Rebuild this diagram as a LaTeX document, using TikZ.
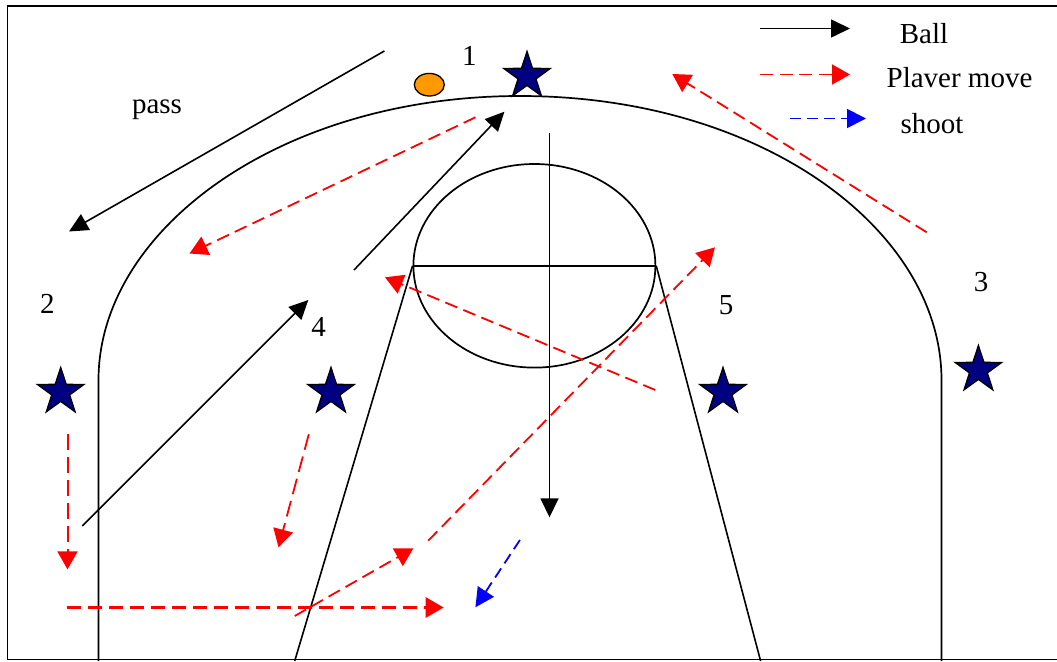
\documentclass[tikz,border=0pt]{standalone}
\usepackage{fontspec}
\setmainfont{Liberation Serif}
\usetikzlibrary{arrows.meta,shapes.geometric}
\definecolor{starnavy}{RGB}{0,0,128}
\definecolor{ballorange}{RGB}{255,153,0}
\definecolor{movered}{RGB}{255,0,0}
\definecolor{shootblue}{RGB}{0,0,255}
\tikzset{
  court/.style={draw=black, line width=1.7pt},
  ballarrow/.style={draw=black, line width=1.6pt, -{Triangle[length=19pt,width=18pt]}},
  movearrow/.style={draw=movered, line width=1.8pt, dash pattern=on 13pt off 6.5pt, -{Triangle[length=18pt,width=20pt]}, movered},
  shootarrow/.style={draw=shootblue, line width=1.8pt, dash pattern=on 11pt off 6pt, -{Triangle[length=19pt,width=19pt]}, shootblue},
  player/.style={star, star points=5, star point ratio=2.6, minimum size=49pt, inner sep=0pt, draw=black, line width=1.3pt, fill=starnavy},
  lbl/.style={font=\fontsize{29}{34}\selectfont, anchor=base, inner sep=0pt}
}
\begin{document}
\begin{tikzpicture}[x=1pt,y=-1pt]
\useasboundingbox (0,0) rectangle (1057,661);
% frame
\draw[line width=1.8pt] (1057,6) -- (7.5,6) -- (7.5,659.5) -- (1057,659.5);
% three point line
\draw[court] (98.5,661) -- (98.5,380)
  .. controls (98.5,230) and (280,96) .. (520,96)
  .. controls (762,96) and (941.5,230) .. (941.5,380)
  -- (941.5,661);
% key
\node[court, ellipse, minimum width=242pt, minimum height=203.6pt, inner sep=0pt] (key) at (534.4,265.8) {};
\draw[court, line width=1.6pt] (key.west) -- (key.east);
\coordinate (laneL) at (294.7,661);
\coordinate (laneR) at (760.6,661);
\draw[court, line width=1.6pt] (key.west) -- (laneL);
\draw[court, line width=1.6pt] (key.east) -- (laneR);
% players
\node[player] (p1) at (527,76) {};
\node[player] (p2) at (60.7,392) {};
\node[player] (p4) at (331,392) {};
\node[player] (p5) at (723,392) {};
\node[player] (p3) at (978.4,370) {};
% ball
\node[ellipse, draw=black, line width=1.3pt, fill=ballorange, minimum width=30pt, minimum height=22.6pt, inner sep=0pt] (ball) at (429.3,84.7) {};
% labels
\node[lbl] (t1) at (469.3,66) {1};
\node[lbl] (t2) at (47.3,313.3) {2};
\node[lbl] (t3) at (981,291.7) {3};
\node[lbl] (t4) at (318.7,336.7) {4};
\node[lbl] (t5) at (726,314) {5};
\node[lbl] (tpass) at (157,113.3) {pass};
% legend
\coordinate (lgA1) at (760,28.5); \coordinate (lgA2) at (850,28.5);
\coordinate (lgB1) at (760,74.5); \coordinate (lgB2) at (850,74.5);
\coordinate (lgC1) at (790,118.5); \coordinate (lgC2) at (866,118.5);
\draw[ballarrow] (lgA1) -- (lgA2);
\draw[movearrow] (lgB1) -- (lgB2);
\draw[shootarrow] (lgC1) -- (lgC2);
\node[lbl] (tball) at (924,43.3) {Ball};
\node[lbl] (tmove) at (959.5,87.3) {Plaver move};
\node[lbl] (tshoot) at (932,133.3) {shoot};
% ball movements
\coordinate (b1s) at (384.4,51); \coordinate (b1e) at (69,231.5);
\coordinate (b2s) at (354,270); \coordinate (b2e) at (504.4,111.7);
\coordinate (b3s) at (82.3,526); \coordinate (b3e) at (308.3,300);
\coordinate (b4s) at (549.5,133.3); \coordinate (b4e) at (549.5,517.3);
\draw[ballarrow] (b1s) -- (b1e);
\draw[ballarrow] (b2s) -- (b2e);
\draw[ballarrow] (b3s) -- (b3e);
\draw[ballarrow] (b4s) -- (b4e);
% player moves
\coordinate (m1s) at (475.4,117.3); \coordinate (m1e) at (189.5,253.5);
\coordinate (m2s) at (926.7,232.3); \coordinate (m2e) at (672.3,74);
\coordinate (m3s) at (655.3,390); \coordinate (m3e) at (385,277.3);
\coordinate (m4s) at (428.2,540.7); \coordinate (m4e) at (715,247.3);
\coordinate (m5s) at (294.7,616); \coordinate (m5e) at (413.4,548.3);
\coordinate (m7s) at (67.5,434.3); \coordinate (m7e) at (67.5,569.3);
\coordinate (m8s) at (308.8,434.3); \coordinate (m8e) at (278.5,547.3);
\coordinate (m6s) at (67.4,607.5); \coordinate (m6e) at (443.7,607.5);
\draw[movearrow] (m1s) -- (m1e);
\draw[movearrow] (m2s) -- (m2e);
\draw[movearrow] (m3s) -- (m3e);
\draw[movearrow] (m4s) -- (m4e);
\draw[movearrow] (m5s) -- (m5e);
\draw[movearrow, line width=2pt, dash pattern=on 16pt off 7pt] (m7s) -- (m7e);
\draw[movearrow, dash pattern=on 16pt off 7pt] (m8s) -- (m8e);
\draw[movearrow, line width=2.8pt, dash pattern=on 14pt off 7pt] (m6s) -- (m6e);
% shoot
\coordinate (s1s) at (519.9,540); \coordinate (s1e) at (475.4,607.3);
\draw[shootarrow] (s1s) -- (s1e);
\end{tikzpicture}
\end{document}
